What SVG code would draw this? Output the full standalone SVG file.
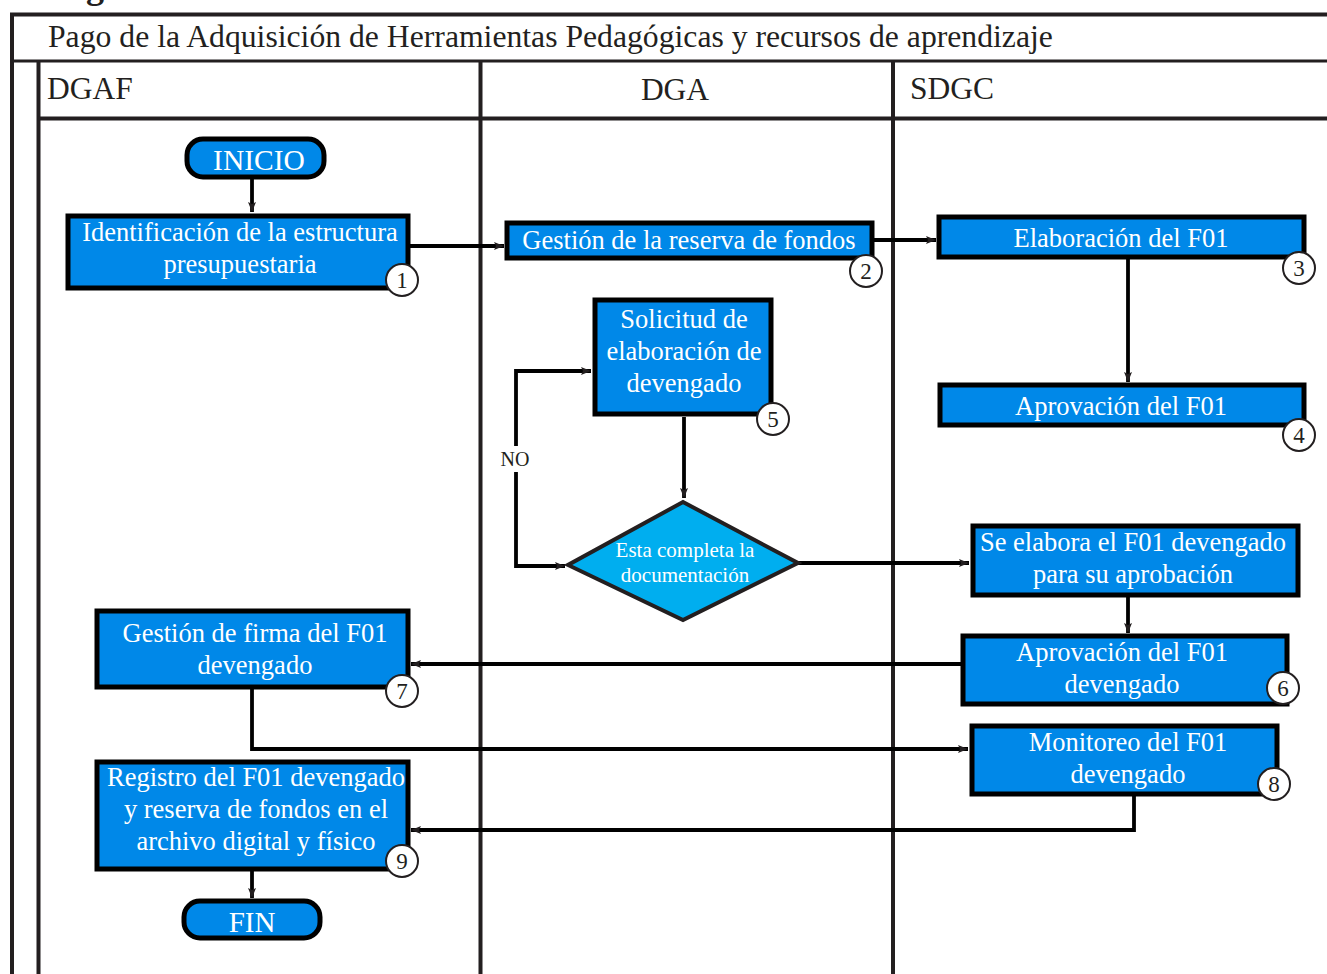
<svg xmlns="http://www.w3.org/2000/svg" width="1327" height="974" viewBox="0 0 1327 974">
<defs>
<marker id="ah" viewBox="0 0 10 8" refX="10" refY="4" markerWidth="11" markerHeight="8" markerUnits="userSpaceOnUse" orient="auto">
<path d="M0,0 L10,4 L0,8 L2,4 Z" fill="#231f20"/>
</marker>
<style>
.lane{stroke:#231f20;fill:none}
.box{fill:#0088e8;stroke:#000;stroke-width:5}
.term{fill:#0088e8;stroke:#000;stroke-width:5}
.dia{fill:#00aeef;stroke:#231f20;stroke-width:4}
.t{font-family:"Liberation Serif","DejaVu Serif",serif;fill:#fff;font-size:26.5px;text-anchor:middle}
.num{fill:#fff;stroke:#231f20;stroke-width:2}
.nt{font-family:"Liberation Serif","DejaVu Serif",serif;fill:#231f20;font-size:23px;text-anchor:middle}
.hd{font-family:"Liberation Serif","DejaVu Serif",serif;fill:#231f20;font-size:31.5px}
.ca{stroke:#000;stroke-width:3.8;fill:none;marker-end:url(#ah)}
</style>
</defs>
<rect width="1327" height="974" fill="#fff"/>
<text x="86" y="-2" font-family="Liberation Serif, serif" font-size="36" font-weight="bold" fill="#231f20">g</text>
<g id="pool">
<line class="lane" x1="10" y1="14.5" x2="1327" y2="14.5" stroke-width="4"/>
<line class="lane" x1="12" y1="13" x2="12" y2="974" stroke-width="4"/>
<line class="lane" x1="12" y1="61" x2="1327" y2="61" stroke-width="3"/>
<line class="lane" x1="38.5" y1="60" x2="38.5" y2="974" stroke-width="4"/>
<line class="lane" x1="38" y1="118.5" x2="1327" y2="118.5" stroke-width="4"/>
<line class="lane" x1="480.5" y1="60" x2="480.5" y2="974" stroke-width="4"/>
<line class="lane" x1="893" y1="60" x2="893" y2="974" stroke-width="4"/>
<text class="hd" x="48" y="47" style="font-size:31.7px">Pago de la Adquisición de Herramientas Pedagógicas y recursos de aprendizaje</text>
<text class="hd" x="47" y="99">DGAF</text>
<text class="hd" x="675" y="100" text-anchor="middle">DGA</text>
<text class="hd" x="910" y="99">SDGC</text>
</g>
<g id="connectors">
<line class="ca" x1="252" y1="179" x2="252" y2="212"/>
<line class="ca" x1="410" y1="246" x2="504" y2="246"/>
<line class="ca" x1="874" y1="240" x2="936" y2="240"/>
<line class="ca" x1="1128" y1="258" x2="1128" y2="382"/>
<line class="ca" x1="684" y1="417" x2="684" y2="498"/>
<polyline class="ca" points="516,446 516,371 591,371"/>
<polyline class="ca" points="516,472 516,566 565,566"/>
<text x="515" y="466" font-family="Liberation Serif, serif" font-size="20" fill="#231f20" text-anchor="middle">NO</text>
<line class="ca" x1="798" y1="563" x2="969" y2="563"/>
<line class="ca" x1="1128" y1="597" x2="1128" y2="633"/>
<line class="ca" x1="961" y1="664" x2="411" y2="664" stroke-width="4"/>
<polyline class="ca" points="252,689 252,749 968,749"/>
<polyline class="ca" points="1134,796 1134,830 411,830"/>
<line class="ca" x1="252" y1="871" x2="252" y2="898"/>
</g>
<g id="inicio">
<rect class="term" x="187" y="139" width="137" height="38" rx="16"/>
<text class="t" x="259" y="170" style="font-size:29.5px">INICIO</text>
</g>
<g id="n1">
<rect class="box" x="68" y="216" width="340" height="72"/>
<text class="t" x="240" y="241">Identificación de la estructura</text>
<text class="t" x="240" y="273">presupuestaria</text>
<circle class="num" cx="402" cy="280" r="16"/>
<text class="nt" x="402" y="288">1</text>
</g>
<g id="n2">
<rect class="box" x="507" y="223" width="365" height="35"/>
<text class="t" x="689" y="249">Gestión de la reserva de fondos</text>
<circle class="num" cx="866" cy="271" r="16"/>
<text class="nt" x="866" y="279">2</text>
</g>
<g id="n3">
<rect class="box" x="939" y="217" width="365" height="40"/>
<text class="t" x="1121" y="247">Elaboración del F01</text>
<circle class="num" cx="1299" cy="268" r="16"/>
<text class="nt" x="1299" y="276">3</text>
</g>
<g id="n4">
<rect class="box" x="940" y="385" width="364" height="40"/>
<text class="t" x="1121" y="415">Aprovación del F01</text>
<circle class="num" cx="1299" cy="435" r="16"/>
<text class="nt" x="1299" y="443">4</text>
</g>
<g id="n5">
<rect class="box" x="595" y="300" width="176" height="114"/>
<text class="t" x="684" y="328">Solicitud de</text>
<text class="t" x="684" y="360">elaboración de</text>
<text class="t" x="684" y="392">devengado</text>
<circle class="num" cx="773" cy="419" r="16"/>
<text class="nt" x="773" y="427">5</text>
</g>
<g id="decision">
<polygon class="dia" points="683,502 798,563 683,620 568,565"/>
<text class="t" x="685" y="557" style="font-size:21px">Esta completa la</text>
<text class="t" x="685" y="582" style="font-size:21px">documentación</text>
</g>
<g id="n_elabora">
<rect class="box" x="973" y="526" width="325" height="69"/>
<text class="t" x="1133" y="551">Se elabora el F01 devengado</text>
<text class="t" x="1133" y="583">para su aprobación</text>
</g>
<g id="n6">
<rect class="box" x="963" y="636" width="324" height="68"/>
<text class="t" x="1122" y="661">Aprovación del F01</text>
<text class="t" x="1122" y="693">devengado</text>
<circle class="num" cx="1283" cy="688" r="16"/>
<text class="nt" x="1283" y="696">6</text>
</g>
<g id="n7">
<rect class="box" x="97" y="611" width="311" height="76"/>
<text class="t" x="255" y="642">Gestión de firma del F01</text>
<text class="t" x="255" y="674">devengado</text>
<circle class="num" cx="402" cy="691" r="16"/>
<text class="nt" x="402" y="699">7</text>
</g>
<g id="n8">
<rect class="box" x="972" y="726" width="305" height="68"/>
<text class="t" x="1128" y="751">Monitoreo del F01</text>
<text class="t" x="1128" y="783">devengado</text>
<circle class="num" cx="1274" cy="784" r="16"/>
<text class="nt" x="1274" y="792">8</text>
</g>
<g id="n9">
<rect class="box" x="97" y="762" width="311" height="107"/>
<text class="t" x="256" y="786">Registro del F01 devengado</text>
<text class="t" x="256" y="818">y reserva de fondos en el</text>
<text class="t" x="256" y="850">archivo digital y físico</text>
<circle class="num" cx="402" cy="861" r="16"/>
<text class="nt" x="402" y="869">9</text>
</g>
<g id="fin">
<rect class="term" x="184" y="901" width="136" height="37" rx="16"/>
<text class="t" x="252" y="932" style="font-size:29px">FIN</text>
</g>
</svg>
